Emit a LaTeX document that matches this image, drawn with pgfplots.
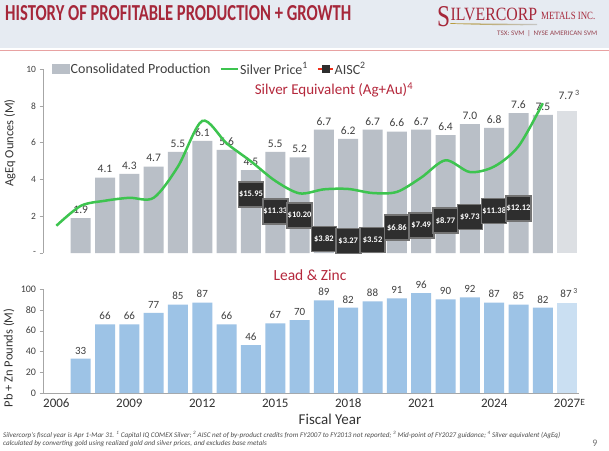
\documentclass[border=0pt]{standalone}
\usepackage{fontspec}
\setmainfont{Carlito}
\newfontfamily\seriffont{Liberation Serif}
\usepackage{pgfplots}
\pgfplotsset{compat=1.18}
\definecolor{titlered}{HTML}{A6273A}
\definecolor{hdrbg}{HTML}{E6EBF2}
\definecolor{hdrline}{HTML}{E8A2A2}
\definecolor{bargray}{HTML}{B9BFC7}
\definecolor{barlight}{HTML}{DCDFE3}
\definecolor{barblue}{HTML}{9DC3E6}
\definecolor{barbluelight}{HTML}{CADFF2}
\definecolor{silvergreen}{HTML}{3DC44F}
\definecolor{aiscred}{HTML}{7A1414}
\definecolor{legred}{HTML}{F0301C}
\definecolor{boxdark}{HTML}{2E2E2E}
\definecolor{subred}{HTML}{B5283C}
\definecolor{txtgray}{HTML}{404040}
\definecolor{axgray}{HTML}{A6A6A6}
\definecolor{goldc}{HTML}{B89B3C}

\pgfplotstableread{
year ageq
2007 1.9
2008 4.1
2009 4.3
2010 4.7
2011 5.5
2012 6.1
2013 5.6
2014 4.5
2015 5.5
2016 5.2
2017 6.7
2018 6.2
2019 6.7
2020 6.6
2021 6.7
2022 6.4
2023 7.0
2024 6.8
2025 7.6
2026 7.5
}\ageqtable

\pgfplotstableread{
year pbzn
2007 33
2008 66
2009 66
2010 77
2011 85
2012 87
2013 66
2014 46
2015 67
2016 70
2017 89
2018 82
2019 88
2020 91
2021 96
2022 90
2023 92
2024 87
2025 85
2026 82
}\pbzntable

\pgfplotstableread{
year silver
2006 7.4
2007 12.8
2008 14.2
2009 15.0
2010 15.0
2011 23.5
2012 35.9
2013 29.8
2014 24.9
2015 19.6
2016 16.2
2017 17.3
2018 17.4
2019 16.3
2020 16.6
2021 20.5
2022 25.2
2023 22.0
2024 23.5
2025 29.0
2026 40.7
}\silvertable

\pgfplotstableread{
year aisc
2014 15.95
2015 11.33
2016 10.20
2017 3.82
2018 3.27
2019 3.52
2020 6.86
2021 7.49
2022 8.77
2023 9.73
2024 11.38
2025 12.12
}\aisctable

\begin{document}
\begin{tikzpicture}[x=1pt,y=1pt]
\path[use as bounding box] (0,0) rectangle (609,450);
\fill[white] (0,0) rectangle (609,450);
% header
\fill[hdrbg] (0,402) rectangle (609,450);
\draw[hdrline, line width=1.6pt] (0,399.5) -- (609,399.5);
\node[anchor=north west, inner sep=0pt] at (5,445) {\resizebox{346pt}{15pt}{\bfseries\color{titlered}HISTORY OF PROFITABLE PRODUCTION + GROWTH}};
% logo
\node[anchor=south west, inner sep=0pt] at (437,423.3) {\resizebox{13pt}{20pt}{\color{titlered}\seriffont S}};
\node[anchor=south west, inner sep=0pt] at (450.5,429.3) {\resizebox{86.5pt}{12.4pt}{\color{titlered}\seriffont ILVERCORP}};
\node[anchor=south west, inner sep=0pt] at (541,430) {\resizebox{54pt}{7.3pt}{\color{titlered}\seriffont METALS INC.}};
\shade[left color=goldc, right color=gray!45] (450,426.3) .. controls (480,424.9) and (510,424.6) .. (537,424.8) -- (537,426.0) .. controls (510,426.2) and (480,426.5) .. (450,426.8) -- cycle;
\node[anchor=south west, inner sep=0pt] at (497,413.3) {\resizebox{100pt}{5pt}{\color{titlered!65!gray}TSX: SVM \,|\, NYSE AMERICAN SVM}};

% ---------------- top axis: bars ----------------
\begin{axis}[
  at={(43pt,197pt)}, anchor=south west, scale only axis,
  width=536.3pt, height=184pt,
  xmin=2005.45, xmax=2027.5, ymin=0, ymax=10,
  axis x line=none, axis y line*=left,
  y axis line style={-, draw=axgray, line width=0.6pt},
  ytick={0,2,4,6,8,10}, yticklabels={-,2,4,6,8,10},
  ytick style={draw=axgray}, tick align=outside, major tick length=3.5pt,
  yticklabel style={font=\fontsize{9.5}{10}\selectfont, text=txtgray},
  /pgf/number format/assume math mode=true,
  clip=false,
]
\addplot[ybar, bar width=20pt, bar shift=0pt, fill=bargray, draw=none,
  nodes near coords={\pgfmathprintnumber[fixed,fixed zerofill,precision=1]{\pgfplotspointmeta}},
  every node near coord/.append style={font=\fontsize{11.5}{12}\selectfont, text=txtgray, anchor=south, yshift=1pt}]
  table[x=year,y=ageq] {\ageqtable};
\addplot[ybar, bar width=20pt, bar shift=0pt, fill=barlight, draw=none,
  nodes near coords={\pgfmathprintnumber[fixed,fixed zerofill,precision=1]{\pgfplotspointmeta}\,\textsuperscript{3}},
  every node near coord/.append style={font=\fontsize{11.5}{12}\selectfont, text=txtgray, anchor=south, yshift=8pt, xshift=2pt}]
  coordinates {(2027,7.7)};
\end{axis}

% ---------------- top axis: lines ----------------
\begin{axis}[
  at={(43pt,197pt)}, anchor=south west, scale only axis,
  width=536.3pt, height=184pt,
  xmin=2005.45, xmax=2027.5, ymin=0, ymax=50,
  hide axis, clip=false,
  /pgf/number format/assume math mode=true,
  legend style={at={(0.017,1.0)}, anchor=west, draw=none, fill=none,
    font=\fontsize{14}{15}\selectfont, text=txtgray,
    /tikz/every even column/.append style={column sep=8pt},
    inner sep=0pt, nodes={inner xsep=1pt, inner ysep=0pt}},
  legend columns=3, legend cell align=left,
]
\addlegendimage{legend image code/.code={\fill[bargray] (0pt,-4.5pt) rectangle (17pt,4.5pt);}}
\addlegendentry{Consolidated Production}
\addlegendimage{line legend, silvergreen, line width=2.5pt}
\addlegendentry{Silver Price\textsuperscript{1}}
\addlegendimage{legend image code/.code={\draw[legred, line width=1.8pt] (0pt,0pt) -- (15pt,0pt); \fill[boxdark] (4pt,-3.5pt) rectangle (11pt,3.5pt);}}
\addlegendentry{AISC\textsuperscript{2}}

\addplot[silvergreen, line width=2.5pt, smooth, forget plot]
  table[x=year,y=silver] {\silvertable};
\addplot[aiscred, line width=1.6pt, forget plot,
  nodes near coords={\$\pgfmathprintnumber[fixed,fixed zerofill,precision=2]{\pgfplotspointmeta}},
  every node near coord/.append style={anchor=center, fill=boxdark, draw=black!55,
    minimum width=25pt, minimum height=25pt, inner sep=0pt, text=white,
    font=\bfseries\fontsize{8.5}{9}\selectfont}]
  table[x=year,y=aisc] {\aisctable};
\end{axis}

% ---------------- bottom axis ----------------
\begin{axis}[
  at={(43pt,57pt)}, anchor=south west, scale only axis,
  width=536.3pt, height=104pt,
  xmin=2005.45, xmax=2027.5, ymin=0, ymax=100,
  axis x line*=bottom, axis y line*=left,
  axis line style={-, draw=axgray, line width=0.6pt},
  xtick={2006,2009,2012,2015,2018,2021,2024,2027},
  xticklabels={2006,2009,2012,2015,2018,2021,2024,{2027\rlap{\raisebox{1.5pt}{\fontsize{9.5}{10}\selectfont E}}}},
  xtick style={draw=none},
  xticklabel style={font=\fontsize{13}{13}\selectfont, text=black!80, yshift=1pt},
  ytick={0,20,40,60,80,100},
  ytick style={draw=axgray}, tick align=outside, major tick length=3.5pt,
  yticklabel style={font=\fontsize{10}{10}\selectfont, text=txtgray},
  /pgf/number format/assume math mode=true,
  clip=false,
]
\addplot[ybar, bar width=20pt, bar shift=0pt, fill=barblue, draw=none,
  nodes near coords={\pgfmathprintnumber{\pgfplotspointmeta}},
  every node near coord/.append style={font=\fontsize{11}{11}\selectfont, text=txtgray, anchor=south, yshift=1pt}]
  table[x=year,y=pbzn] {\pbzntable};
\addplot[ybar, bar width=20pt, bar shift=0pt, fill=barbluelight, draw=none,
  nodes near coords={\pgfmathprintnumber{\pgfplotspointmeta}\,\textsuperscript{3}},
  every node near coord/.append style={font=\fontsize{11}{11}\selectfont, text=txtgray, anchor=south, yshift=1pt, xshift=2pt}]
  coordinates {(2027,87)};
\end{axis}

% titles and labels
\node[text=subred, font=\fontsize{15}{15}\selectfont] at (334,360) {Silver Equivalent (Ag+Au)\textsuperscript{4}};
\node[text=subred, font=\fontsize{15.5}{15.5}\selectfont] at (310,175) {Lead \& Zinc};
\node[rotate=90, text=black!80, font=\fontsize{12.5}{12.5}\selectfont] at (10,307) {AgEq Ounces (M)};
\node[rotate=90, text=black!80, font=\fontsize{12.5}{12.5}\selectfont] at (9,92) {Pb + Zn Pounds (M)};
\node[text=black!80, font=\fontsize{15}{15}\selectfont] at (330,31) {Fiscal Year};
% footnote
\node[anchor=north west, inner sep=0pt] at (3,19) {\resizebox{557pt}{!}{\itshape\color{black!70}\begin{tabular}{@{}l@{}}Silvercorp’s fiscal year is Apr 1-Mar 31. \textsuperscript{1} Capital IQ COMEX Silver; \textsuperscript{2} AISC net of by-product credits from FY2007 to FY2013 not reported; \textsuperscript{3} Mid-point of FY2027 guidance; \textsuperscript{4} Silver equivalent (AgEq)\\ calculated by converting gold using realized gold and silver prices, and excludes base metals\end{tabular}}};
\node[text=black!55, font=\fontsize{10}{10}\selectfont] at (595,7) {9};
\end{tikzpicture}
\end{document}
